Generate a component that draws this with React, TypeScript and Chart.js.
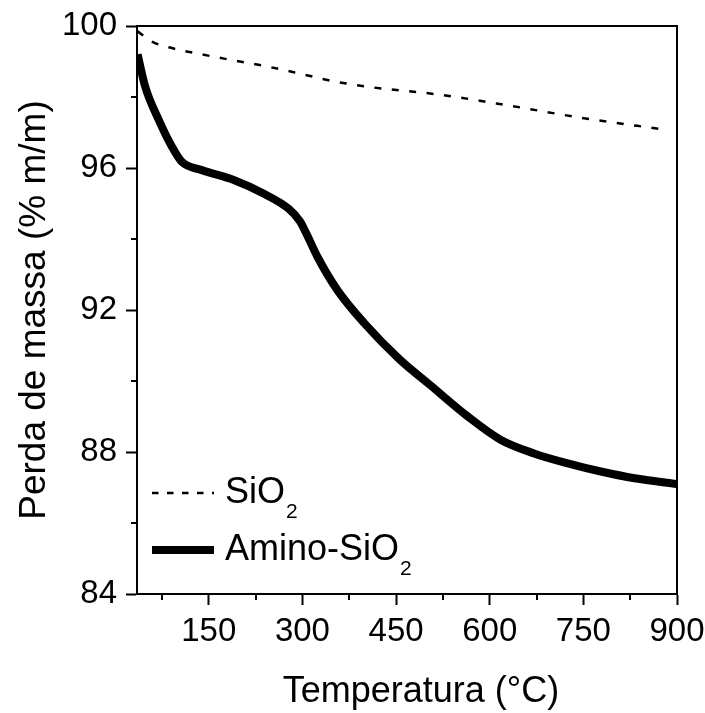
import React, { useEffect, useRef } from "react";
import { Chart, registerables } from "chart.js";

Chart.register(...registerables);

// ---- data ----
const sio2Temps = [36, 59, 86, 139, 193, 246, 298, 348, 404, 522, 634, 741, 884];
const sio2Values = [99.85, 99.56, 99.4, 99.2, 99.02, 98.85, 98.65, 98.45, 98.29, 98.06, 97.75, 97.43, 97.07];

const aminoTemps = [36, 48, 70, 91, 107, 139, 190, 240, 278, 296, 305, 324, 356, 399, 455, 505, 565, 618, 671, 725, 778, 832, 900];
const aminoValues = [99.2, 98.3, 97.35, 96.6, 96.17, 95.94, 95.66, 95.26, 94.85, 94.5, 94.2, 93.5, 92.56, 91.63, 90.62, 89.88, 89.0, 88.34, 87.96, 87.68, 87.45, 87.26, 87.1];

const seriesLabels = ["SiO₂", "Amino-SiO₂"];
const xTickValues = [150, 300, 450, 600, 750, 900];
const xMinorTicks = [75, 225, 375, 525, 675, 825];
const yTickValues = [84, 88, 92, 96, 100];
const yMinorTicks = [86, 90, 94, 98];
const xRange = [35, 900];
const yRange = [84, 100];
const xTitle = "Temperatura (°C)";
const yTitle = "Perda de massa (% m/m)";

const FONT = 'Arial, "Liberation Sans", sans-serif';

const framePlugin = {
  id: "frame",
  afterDraw(chart: any) {
    const { ctx, chartArea } = chart;
    const { left, right, top, bottom } = chartArea;
    const xs = chart.scales.x;
    const ys = chart.scales.y;
    ctx.save();
    ctx.strokeStyle = "#000";
    ctx.lineWidth = 2;
    // top & right border
    ctx.beginPath();
    ctx.moveTo(left, top);
    ctx.lineTo(right, top);
    ctx.lineTo(right, bottom);
    ctx.stroke();
    // minor ticks
    ctx.beginPath();
    for (const v of xMinorTicks) {
      const px = Math.round(xs.getPixelForValue(v));
      ctx.moveTo(px, bottom);
      ctx.lineTo(px, bottom + 6);
    }
    for (const v of yMinorTicks) {
      const py = Math.round(ys.getPixelForValue(v));
      ctx.moveTo(left, py);
      ctx.lineTo(left - 6, py);
    }
    ctx.stroke();

    // x axis title (slightly right of centre, as in the original)
    ctx.fillStyle = "#000";
    ctx.font = `36px ${FONT}`;
    ctx.textAlign = "center";
    ctx.textBaseline = "alphabetic";
    ctx.fillText(xTitle, (left + right) / 2 + 14, bottom + 108);

    // legend
    const entries = chart.data.datasets;
    const baseY = [bottom - 91, bottom - 34];
    entries.forEach((ds: any, i: number) => {
      const bl = baseY[i];
      const ly = bl - 10;
      ctx.save();
      ctx.strokeStyle = ds.borderColor;
      ctx.lineWidth = ds.borderWidth;
      ctx.setLineDash(i === 0 ? [6.5, 8.5] : []);
      ctx.lineCap = "butt";
      ctx.beginPath();
      ctx.moveTo(left + 15, ly);
      ctx.lineTo(left + 77, ly);
      ctx.stroke();
      ctx.restore();
      const label: string = ds.label;
      const base = label.replace("₂", "");
      ctx.fillStyle = "#000";
      ctx.textBaseline = "alphabetic";
      ctx.textAlign = "left";
      ctx.font = `36px ${FONT}`;
      const tx = left + 88;
      ctx.fillText(base, tx, bl);
      const w = ctx.measureText(base).width;
      if (label.includes("₂")) {
        ctx.font = `21px ${FONT}`;
        ctx.fillText("2", tx + w + 1, bl + 15);
      }
    });
    ctx.restore();
  },
};

export default function App() {
  const ref = useRef<HTMLCanvasElement>(null);
  useEffect(() => {
    document.body.style.margin = "0";
    const canvas = ref.current!;
    const chart = new Chart(canvas, {
      type: "line",
      data: {
        datasets: [
          {
            label: seriesLabels[0],
            data: sio2Temps.map((t, i) => ({ x: t, y: sio2Values[i] })),
            borderColor: "#000",
            borderWidth: 2.5,
            borderDash: [7, 10.5],
            pointRadius: 0,
            cubicInterpolationMode: "monotone",
            fill: false,
          },
          {
            label: seriesLabels[1],
            data: aminoTemps.map((t, i) => ({ x: t, y: aminoValues[i] })),
            borderColor: "#000",
            borderWidth: 8,
            pointRadius: 0,
            cubicInterpolationMode: "monotone",
            fill: false,
          },
        ],
      },
      options: {
        animation: false,
        responsive: false,
        maintainAspectRatio: false,
        layout: { padding: { top: 26, right: 28, left: 0, bottom: 0 } },
        plugins: { legend: { display: false }, tooltip: { enabled: false } },
        scales: {
          x: {
            type: "linear",
            min: xRange[0],
            max: xRange[1],
            afterFit: (s: any) => {
              s.height = 119;
              s.paddingLeft = 0;
              s.paddingRight = 0;
            },
            afterBuildTicks: (s: any) => {
              s.ticks = xTickValues.map((v) => ({ value: v }));
            },
            border: { display: true, color: "#000", width: 2 },
            grid: {
              display: true,
              drawOnChartArea: false,
              drawTicks: true,
              tickLength: 11,
              tickWidth: 2,
              tickColor: "#000",
            },
            ticks: {
              color: "#000",
              font: { family: FONT, size: 33 },
              padding: 7,
              maxRotation: 0,
              autoSkip: false,
            },
            title: { display: false },
          },
          y: {
            type: "linear",
            min: yRange[0],
            max: yRange[1],
            afterFit: (s: any) => {
              s.width = 137;
              s.paddingTop = 0;
              s.paddingBottom = 0;
            },
            afterBuildTicks: (s: any) => {
              s.ticks = yTickValues.map((v) => ({ value: v }));
            },
            border: { display: true, color: "#000", width: 2 },
            grid: {
              display: true,
              drawOnChartArea: false,
              drawTicks: true,
              tickLength: 11,
              tickWidth: 2,
              tickColor: "#000",
            },
            ticks: {
              color: "#000",
              font: { family: FONT, size: 33 },
              padding: 9,
              autoSkip: false,
            },
            title: {
              display: true,
              text: yTitle,
              color: "#000",
              font: { family: FONT, size: 37 },
              padding: { top: 13, bottom: 0 },
            },
          },
        },
      },
      plugins: [framePlugin],
    } as any);
    return () => chart.destroy();
  }, []);
  return (
    <div style={{ position: "fixed", left: 0, top: 0, width: 705, height: 713, background: "#fff" }}>
      <canvas ref={ref} width={705} height={713} />
    </div>
  );
}
